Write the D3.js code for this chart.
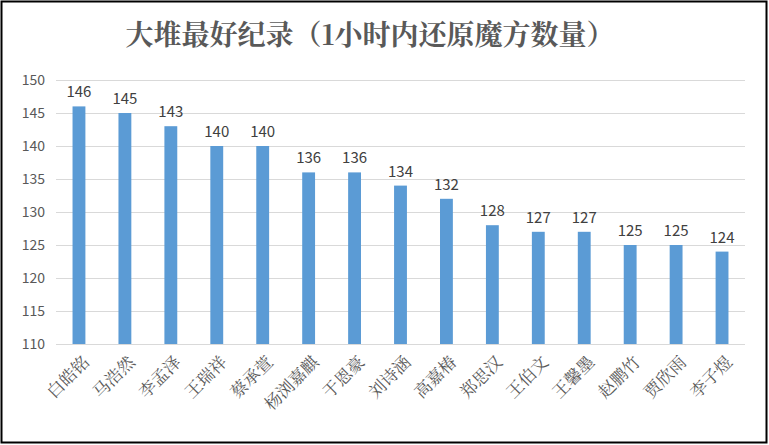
<!DOCTYPE html>
<html><head><meta charset="utf-8">
<script src="https://cdn.jsdelivr.net/npm/d3@7"></script>
<style>body{margin:0;background:#fff}</style>
</head><body><div id="chart"></div>
<script>
const names = ['白皓铭','马浩然','李孟泽','王瑞祥','蔡承萱','杨浏嘉麒','于恩豪','刘诗涵','高嘉椿','郑思汉','王伯文','王馨墨','赵鹏竹','贾欣雨','李子煜'];
const values = [146,145,143,140,140,136,136,134,132,128,127,127,125,125,124];
const yTicks = [110,115,120,125,130,135,140,145,150];

const W = 769, H = 445;
const margin = { top: 80, right: 24, bottom: 101, left: 56 };
const svg = d3.select('#chart').append('svg').attr('width', W).attr('height', H)
  .style('font-family', "'Noto Sans CJK SC', sans-serif");

svg.append('rect').attr('x', 1.5).attr('y', 1.5).attr('width', W - 4).attr('height', H - 4)
  .attr('fill', '#fff').attr('stroke', '#000').attr('stroke-width', 2);

svg.append('text').attr('x', 370).attr('y', 45).attr('text-anchor', 'middle')
  .attr('font-size', 28).attr('font-weight', 'bold').attr('fill', '#595959')
  .style('font-family', "'Noto Serif CJK SC','Noto Sans CJK SC',serif")
  .text('大堆最好纪录（1小时内还原魔方数量）');

const x = d3.scaleBand().domain(names).range([margin.left, W - margin.right]).paddingInner(0.72).paddingOuter(0.36);
const y = d3.scaleLinear().domain([110, 150]).range([H - margin.bottom, margin.top]);

svg.append('g').selectAll('line').data(yTicks).join('line')
  .attr('x1', margin.left).attr('x2', W - margin.right)
  .attr('y1', d => y(d) + 0.5).attr('y2', d => y(d) + 0.5)
  .attr('stroke', '#d9d9d9');

svg.append('g').selectAll('text').data(yTicks).join('text')
  .attr('x', 45).attr('y', d => y(d)).attr('dy', '0.35em').attr('text-anchor', 'end')
  .attr('font-size', 14).attr('fill', '#595959').text(d => d);

svg.append('g').selectAll('rect').data(values).join('rect')
  .attr('x', (d, i) => x(names[i])).attr('width', x.bandwidth())
  .attr('y', d => y(d)).attr('height', d => y(110) - y(d))
  .attr('fill', '#5b9bd5');

svg.append('g').selectAll('text').data(values).join('text')
  .attr('x', (d, i) => x(names[i]) + x.bandwidth() / 2).attr('y', d => y(d) - 9)
  .attr('text-anchor', 'middle').attr('font-size', 15).attr('fill', '#404040').text(d => d);

svg.append('g').selectAll('text').data(names).join('text')
  .attr('transform', d => `translate(${x(d) + x.bandwidth() / 2 + 7},${H - margin.bottom + 15}) rotate(-45)`)
  .attr('text-anchor', 'end').attr('dy', '0.35em').attr('font-size', 17).attr('fill', '#595959')
  .style('font-family', "'Noto Serif CJK SC','Noto Sans CJK SC',serif")
  .text(d => d);
</script></body></html>
